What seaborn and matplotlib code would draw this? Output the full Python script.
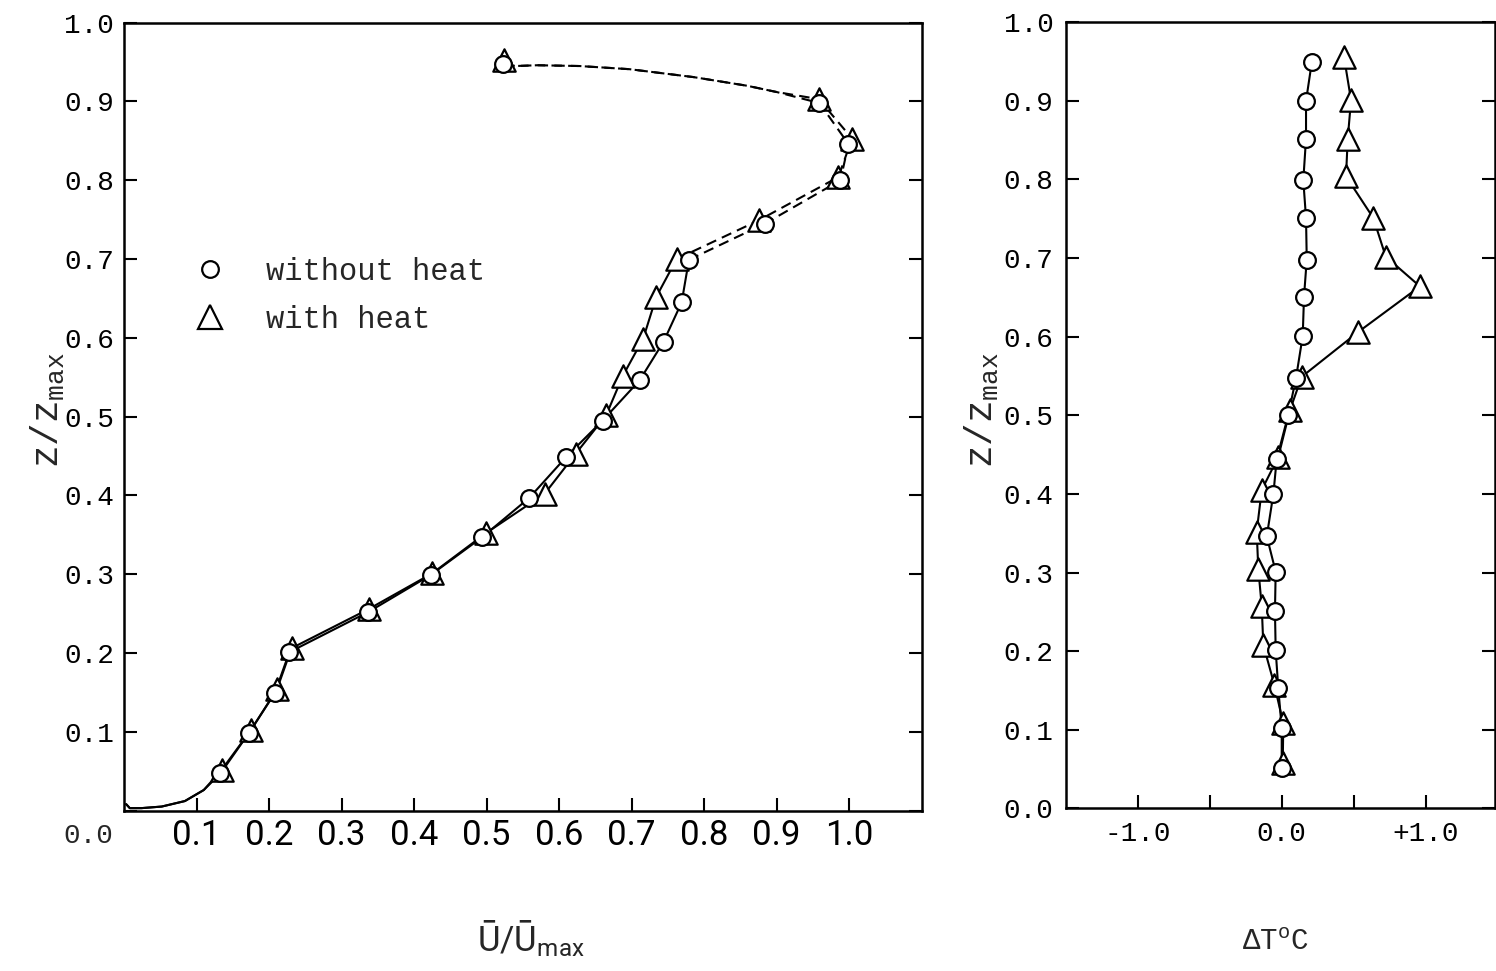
import numpy as np
import matplotlib
matplotlib.use("Agg")
import matplotlib.pyplot as plt
import seaborn as sns
from matplotlib import font_manager as fm
from matplotlib.lines import Line2D

# ---------------- data ----------------
# left panel: mean velocity profile U/Umax vs z/zmax
z_without = [0.047, 0.098, 0.149, 0.201, 0.252, 0.299, 0.347, 0.397, 0.449, 0.495,
             0.546, 0.595, 0.645, 0.699, 0.745, 0.800, 0.846, 0.898, 0.948]
u_without = [0.133, 0.172, 0.208, 0.228, 0.337, 0.423, 0.494, 0.559, 0.610, 0.660,
             0.711, 0.744, 0.769, 0.779, 0.884, 0.988, 0.999, 0.959, 0.522]
z_with = [0.052, 0.102, 0.154, 0.206, 0.256, 0.301, 0.352, 0.402, 0.453, 0.502,
          0.552, 0.599, 0.652, 0.700, 0.749, 0.804, 0.853, 0.903, 0.953]
u_with = [0.135, 0.175, 0.211, 0.231, 0.338, 0.425, 0.499, 0.580, 0.623, 0.665,
          0.688, 0.716, 0.734, 0.762, 0.875, 0.985, 1.004, 0.958, 0.524]
# hand-drawn curve near the wall (origin -> first point)
wall_u = [0.003, 0.008, 0.024, 0.052, 0.084, 0.110]
wall_z = [0.008, 0.003, 0.003, 0.005, 0.012, 0.026]
# hand-drawn dashed arc between z=0.90 and z=0.95 points
arc_u = [0.900, 0.859, 0.785, 0.697, 0.628, 0.570, 0.540]
arc_z = [0.912, 0.920, 0.931, 0.941, 0.945, 0.946, 0.945]
n_solid = 14  # points up to z = 0.70 joined by a solid line, dashed above

# right panel: temperature difference profile
zt_without = [0.051, 0.102, 0.153, 0.201, 0.251, 0.301, 0.346, 0.400, 0.444, 0.501,
              0.547, 0.601, 0.651, 0.698, 0.751, 0.799, 0.852, 0.900, 0.949]
dt_without = [0.000, 0.000, -0.024, -0.042, -0.047, -0.042, -0.104, -0.058, -0.035, 0.046,
              0.099, 0.146, 0.155, 0.174, 0.169, 0.150, 0.169, 0.169, 0.209]
zt_with = [0.057, 0.108, 0.157, 0.208, 0.257, 0.305, 0.352, 0.405, 0.447, 0.507,
           0.549, 0.606, 0.664, 0.702, 0.751, 0.804, 0.852, 0.901, 0.956]
dt_with = [0.007, 0.011, -0.051, -0.128, -0.139, -0.163, -0.174, -0.139, -0.024, 0.058,
           0.139, 0.532, 0.961, 0.723, 0.637, 0.447, 0.459, 0.482, 0.433]

left_xticks = [0.1, 0.2, 0.3, 0.4, 0.5, 0.6, 0.7, 0.8, 0.9, 1.0]
left_xticklabels = ["0.1", "0.2", "0.3", "0.4", "0.5", "0.6", "0.7", "0.8", "0.9", "1.0"]
yticks = [0.0, 0.1, 0.2, 0.3, 0.4, 0.5, 0.6, 0.7, 0.8, 0.9, 1.0]
yticklabels = ["0.0", "0.1", "0.2", "0.3", "0.4", "0.5", "0.6", "0.7", "0.8", "0.9", "1.0"]
right_xticks = [-1.0, -0.5, 0.0, 0.5, 1.0]
right_xticklabels = ["-1.0", "", "0.0", "", "+1.0"]
legend_labels = ["without heat", "with heat"]

# ---------------- style ----------------
sns.set_theme(style="white")
names = {f.name for f in fm.fontManager.ttflist}
MONO = "Liberation Mono" if "Liberation Mono" in names else "DejaVu Sans Mono"
if "Liberation Sans Narrow" in names:
    NARROW = "Liberation Sans Narrow"
elif "Roboto" in names:
    NARROW = "Roboto"
else:
    NARROW = "DejaVu Sans"
plt.rcParams["font.family"] = [MONO, "DejaVu Sans"]
plt.rcParams["mathtext.fontset"] = "custom"
plt.rcParams["mathtext.rm"] = MONO
plt.rcParams["mathtext.sf"] = NARROW
plt.rcParams["mathtext.it"] = MONO
plt.rcParams["mathtext.bf"] = MONO

fig = plt.figure(figsize=(14.96, 9.71), dpi=100)
fig.patch.set_facecolor("white")
W, H = 1496.0, 971.0
axL = fig.add_axes([124 / W, 160.5 / H, 797.7 / W, 787.8 / H])
axR = fig.add_axes([1066 / W, 162.7 / H, 429 / W, 786.0 / H])

LW = 1.5
MEW = 1.6


def draw_line(ax, u, z, ls="-"):
    sns.lineplot(x=np.asarray(u), y=np.asarray(z), sort=False, estimator=None, ax=ax,
                 color="black", linewidth=LW, linestyle=ls, zorder=2, legend=False)


def draw_markers(ax, u, z, marker, s, zo):
    sns.scatterplot(x=np.asarray(u), y=np.asarray(z), marker=marker, s=s, color="white",
                    edgecolor="black", linewidth=MEW, zorder=zo, ax=ax, legend=False,
                    clip_on=False)


dash = (0, (5, 3))
# ---- left panel ----
for u, z in ((u_without, z_without), (u_with, z_with)):
    draw_line(axL, list(wall_u) + u[:1], list(wall_z) + z[:1])
    draw_line(axL, u[:n_solid], z[:n_solid])
    draw_line(axL, u[n_solid - 1:-1] + arc_u + u[-1:], z[n_solid - 1:-1] + arc_z + z[-1:], dash)
draw_markers(axL, u_with, z_with, "^", 260, 3)
draw_markers(axL, u_without, z_without, "o", 145, 4)

# ---- right panel ----
draw_line(axR, dt_with, zt_with)
draw_line(axR, dt_without, zt_without)
draw_markers(axR, dt_with, zt_with, "^", 260, 3)
draw_markers(axR, dt_without, zt_without, "o", 145, 4)

# ---------------- axes cosmetics ----------------
for ax in (axL, axR):
    ax.set_facecolor("white")
    ax.grid(False)
    for sp in ax.spines.values():
        sp.set_visible(True)
        sp.set_color("black")
        sp.set_linewidth(1.8)
    ax.set_ylim(0, 1.0)
    ax.set_yticks(yticks)
    ax.tick_params(axis="both", direction="in", length=9.5, width=1.5, color="black",
                   labelcolor="black")
    ax.tick_params(axis="y", left=True, right=True, labelleft=True, labelright=False)
    ax.tick_params(axis="x", bottom=True, top=False)

axL.set_xlim(0, 1.1)
axL.set_xticks(left_xticks)
axL.set_xticklabels(left_xticklabels, fontfamily=[NARROW, "DejaVu Sans"], fontsize=25)
axL.set_yticklabels([""] + yticklabels[1:], fontsize=20)
axL.tick_params(axis="y", pad=7)
axL.tick_params(axis="x", pad=6)
axL.annotate(yticklabels[0], xy=(0, 0), xycoords="axes fraction", xytext=(-11, -25),
             textcoords="offset pixels", ha="right", va="center", fontsize=20)

axR.set_xlim(-1.5, 1.483)
axR.set_xticks(right_xticks)
axR.set_xticklabels(right_xticklabels, fontsize=20)
axR.set_yticklabels(yticklabels, fontsize=20)
axR.tick_params(axis="y", pad=9)
axR.tick_params(axis="x", pad=9)

ylab = "$\\mathrm{z/z}_{\\mathrm{max}}$"
axL.set_ylabel(ylab, fontsize=27)
axL.yaxis.set_label_coords(-0.072, 0.508)
axR.set_ylabel(ylab, fontsize=27)
axR.yaxis.set_label_coords(-0.152, 0.507)

axL.set_xlabel("\u016A/\u016A$_{\\mathsf{max}}$", fontfamily=[NARROW, "DejaVu Sans"], fontsize=25)
axL.xaxis.set_label_coords(0.51, -0.1365)
axR.set_xlabel("\u0394T$^{\\mathrm{o}}$C", fontsize=21)
axR.xaxis.set_label_coords(0.487, -0.152)

handles = [
    Line2D([], [], marker="o", linestyle="none", markerfacecolor="white",
           markeredgecolor="black", markeredgewidth=MEW, markersize=12),
    Line2D([], [], marker="^", linestyle="none", markerfacecolor="white",
           markeredgecolor="black", markeredgewidth=MEW, markersize=17),
]
axL.legend(handles, legend_labels, loc="upper left", bbox_to_anchor=(0.0896, 0.703),
           frameon=False, fontsize=22, handlelength=0.95, handletextpad=1.35,
           borderpad=0, borderaxespad=0, labelspacing=0.6)

fig.savefig("out.png", dpi=100, facecolor="white")
